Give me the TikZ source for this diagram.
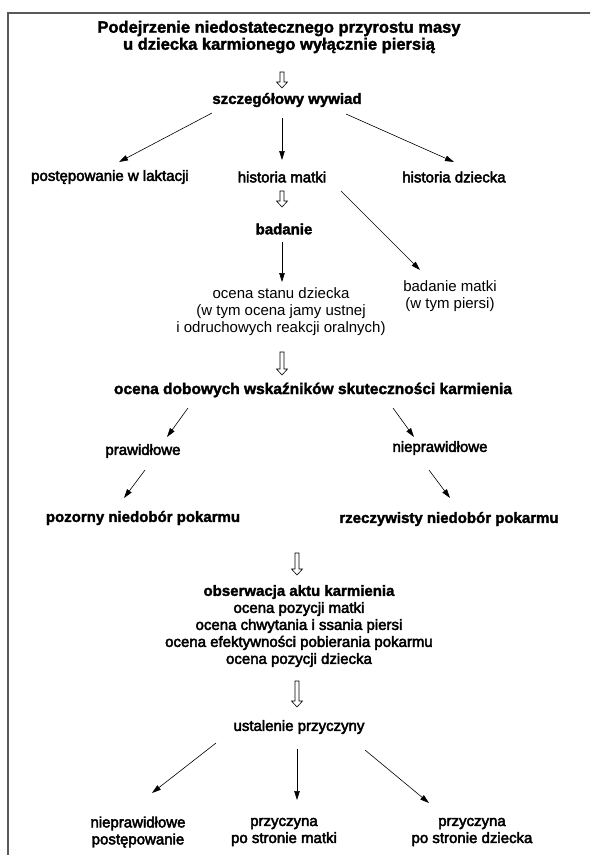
\documentclass[tikz,border=0pt]{standalone}
\usepackage{fontspec}
\setmainfont{Liberation Sans}[BoldFeatures={FakeBold=2}]
\newfontface\medfont{Liberation Sans}[FakeBold=3]
\usetikzlibrary{arrows.meta}
\tikzset{%
	plain/.style={align=center,inner sep=0pt,font=\fontsize{15}{17}\selectfont},
	medium/.style={plain,font=\fontsize{15}{17}\selectfont\medfont},
	heavy/.style={plain,font=\fontsize{15}{17}\selectfont\bfseries},
	link/.style={-{Triangle[length=9pt,width=5.5pt]},line width=0.6pt},
	frame/.style={draw=black!65,line width=2pt},
	pics/downarrow/.style={code={
		\draw[line width=0.6pt] (-2,0) -- (2,0) -- (2,#1-6) -- (5.5,#1-6) -- (0,#1) -- (-5.5,#1-6) -- (-2,#1-6) -- cycle;
	}},
}

\begin{document}
\begin{tikzpicture}[x=1pt,y=-1pt]
	\useasboundingbox (0,0) rectangle (590,855);
	\clip (0,0) rectangle (590,855);
	\draw[frame] (8,880) |- (620,13);
	
	%wywiad
	\node[heavy,font=\fontsize{16.5}{17}\selectfont\bfseries] (title) at (279,37) {Podejrzenie niedostatecznego przyrostu masy\\u dziecka karmionego wyłącznie piersią};
	\pic (h1) at (282,72) {downarrow=16};
	\node[heavy] (wywiad) at (287,100) {szczegółowy wywiad};
	\node[medium] (laktacja) at (110,177) {postępowanie w laktacji};
	\node[medium] (matki) at (282,177) {historia matki};
	\node[medium] (dziecka) at (454,177) {historia dziecka};
	\draw[link] ([shift={(-75,13)}]wywiad.center) -- ([shift={(9,-15)}]laktacja.center);
	\draw[link] ([shift={(-5,18)}]wywiad.center) -- ([shift={(0,-17)}]matki.center);
	\draw[link] ([shift={(59,14)}]wywiad.center) -- ([shift={(0,-15)}]dziecka.center);
	
	%badanie
	\pic (h2) at (282,191) {downarrow=16};
	\node[heavy] (badanie) at (284,229) {badanie};
	\node[plain] (stan) at (281,312) {ocena stanu dziecka\\(w tym ocena jamy ustnej\\i odruchowych reakcji oralnych)};
	\node[plain] (badmatki) at (450,296) {badanie matki\\(w tym piersi)};
	\draw[link] ([shift={(59,14)}]matki.center) -- ([shift={(-30,-26)}]badmatki.center);
	\draw[link] ([shift={(-2,13)}]badanie.center) -- ([shift={(1,-30)}]stan.center);
	
	%wskazniki
	\pic (h3) at (282,352) {downarrow=23};
	\node[heavy,font=\fontsize{15.5}{17}\selectfont\bfseries] (dobowe) at (313,390) {ocena dobowych wskaźników skuteczności karmienia};
	\node[medium] (prawid) at (143,451) {prawidłowe};
	\node[medium] (nieprawid) at (440,448) {nieprawidłowe};
	\node[heavy] (pozorny) at (143,518) {pozorny niedobór pokarmu};
	\node[heavy] (rzeczyw) at (449,519) {rzeczywisty niedobór pokarmu};
	\draw[link] ([shift={(-125,18)}]dobowe.center) -- ([shift={(24,-14)}]prawid.center);
	\draw[link] ([shift={(80,18)}]dobowe.center) -- ([shift={(-26,-11)}]nieprawid.center);
	\draw[link] ([shift={(2,19)}]prawid.center) -- ([shift={(-19,-20)}]pozorny.center);
	\draw[link] ([shift={(-11,22)}]nieprawid.center) -- ([shift={(1,-21)}]rzeczyw.center);
	
	%obserwacja
	\pic (h4) at (297,553) {downarrow=22};
	\node[medium] (obserw) at (299,626) {{\normalfont\bfseries obserwacja aktu karmienia}\\ocena pozycji matki\\ocena chwytania i ssania piersi\\ocena efektywności pobierania pokarmu\\ocena pozycji dziecka};
	\pic (h5) at (297,681) {downarrow=26};
	\node[medium] (przyczyna) at (299,727) {ustalenie przyczyny};
	\node[medium] (postep) at (138,832) {nieprawidłowe\\postępowanie};
	\node[medium] (pomatki) at (284,832) {przyczyna\\po stronie matki};
	\node[medium] (podziecka) at (472,832) {przyczyna\\po stronie dziecka};
	\draw[link] ([shift={(-83,16)}]przyczyna.center) -- ([shift={(14,-39)}]postep.center);
	\draw[link] ([shift={(-2,22)}]przyczyna.center) -- ([shift={(13,-32)}]pomatki.center);
	\draw[link] ([shift={(66,23)}]przyczyna.center) -- ([shift={(-43,-29)}]podziecka.center);
\end{tikzpicture}
\end{document}
